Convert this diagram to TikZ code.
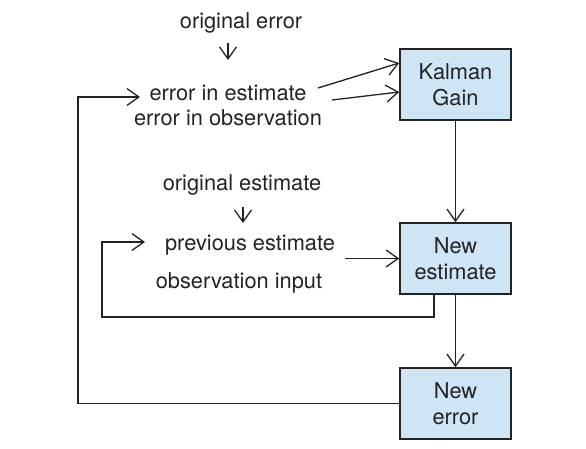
\documentclass[tikz,border=0pt]{standalone}
\usepackage{fontspec}
\setmainfont{TeX Gyre Heros}
\usetikzlibrary{arrows.meta}
\definecolor{boxblue}{RGB}{206,229,245}
\definecolor{ink}{RGB}{35,35,35}
\begin{document}
\begin{tikzpicture}[x=1pt,y=-1pt,
  lbl/.style={anchor=base, inner sep=0pt, text=ink, font=\fontsize{21.8}{26}\selectfont},
  box/.style={draw=ink, fill=boxblue, line width=1.6pt, minimum width=111pt, minimum height=71pt, inner sep=0pt, align=center, text=ink, font=\fontsize{21.8}{26}\selectfont},
  arr/.style={draw=ink, line width=1.3pt, -{Straight Barb[length=12pt,width=17pt]}},
  ln/.style={draw=ink, line width=1.3pt}]
\useasboundingbox (0,0) rectangle (586,448);
% text labels
\node[lbl] (oe) at (241,28) {original error};
\node[lbl] (ee) at (228,100) {error in estimate};
\node[lbl] (eo) at (228,125) {error in observation};
\node[lbl] (os) at (242,190) {original estimate};
\node[lbl] (pe) at (250,250) {previous estimate};
\node[lbl] (oi) at (239,288) {observation input};
% boxes
\node[box] (kg) at (455.5,84.5) {Kalman\\Gain};
\node[box] (ne) at (455.5,258.5) {New\\estimate};
\node[box] (nr) at (455.5,403.5) {New\\error};
% free ends
\coordinate (d1a) at (228,43);
\coordinate (d1b) at (228,60);
\coordinate (d2a) at (243,207);
\coordinate (d2b) at (243,223);
\coordinate (k1) at (318,88);
\coordinate (k2) at (332,100);
\coordinate (fb1) at (78,97);
\coordinate (fb2) at (140,97);
\coordinate (lp0) at (434,294);
\coordinate (lp1) at (434,317);
\coordinate (lp2) at (102,317);
\coordinate (lp3) at (102,242);
\coordinate (lp4) at (145,242);
\coordinate (pin) at (345,258.5);
% connectors
\draw[arr] (d1a) -- (d1b);
\draw[arr] (d2a) -- (d2b);
\draw[arr] (k1) -- ([yshift=21.5pt]kg.west);
\draw[arr] (k2) -- ([yshift=-7.5pt]kg.west);
\draw[arr] (kg.south) -- (ne.north);
\draw[arr] (ne.south) -- (nr.north);
\draw[arr] (pin) -- (ne.west);
\draw[arr] (nr.west) -| (fb1) -- (fb2);
\draw[arr] (lp0) -- (lp1) -- (lp2) -- (lp3) -- (lp4);
\end{tikzpicture}
\end{document}
